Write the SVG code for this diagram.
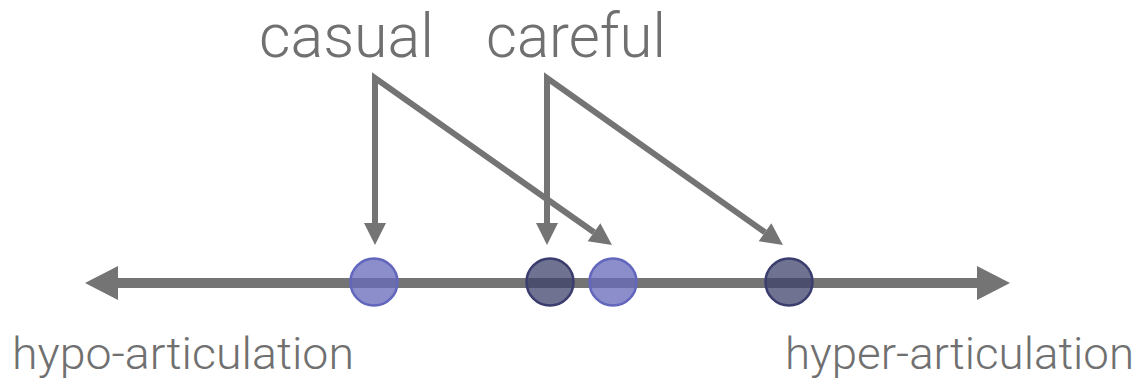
<svg xmlns="http://www.w3.org/2000/svg" width="1143" height="381" viewBox="0 0 1143 381">
  <style>
    .lbl { font-family: Roboto, "Liberation Sans", Arial, sans-serif; font-weight: 300; fill: #707070; }
    .ptr { fill: none; stroke: #747474; stroke-width: 6; stroke-linejoin: miter; stroke-miterlimit: 10; }
    .axis { fill: none; stroke: #747474; stroke-width: 10; }
    .light { fill: rgb(103,106,185); fill-opacity: 0.76; stroke: #6266bd; stroke-width: 2.5; }
    .dark { fill: rgb(61,65,105); fill-opacity: 0.74; stroke: #3b3d6e; stroke-width: 2.5; }
  </style>
  <defs>
    <marker id="ah" markerUnits="userSpaceOnUse" markerWidth="23" markerHeight="23" refX="0" refY="11" orient="auto-start-reverse" overflow="visible">
      <path d="M0,0 L22,11 L0,22 Z" fill="#747474"/>
    </marker>
    <marker id="axh" markerUnits="userSpaceOnUse" markerWidth="34" markerHeight="35" refX="0" refY="17" orient="auto-start-reverse" overflow="visible">
      <path d="M0,0 L33,17 L0,34 Z" fill="#747474"/>
    </marker>
  </defs>

  <g id="connectors">
    <path id="axis" class="axis" d="M118,283 L977,283" marker-start="url(#axh)" marker-end="url(#axh)"/>
    <path id="casual-arrows" class="ptr" d="M375,223 L375,78 L594,232.3" marker-start="url(#ah)" marker-end="url(#ah)"/>
    <path id="careful-arrows" class="ptr" d="M547,223 L547,78 L765,232.3" marker-start="url(#ah)" marker-end="url(#ah)"/>
  </g>

  <g id="casual-label">
    <text class="lbl" x="259" y="57" font-size="62" textLength="175" lengthAdjust="spacingAndGlyphs">casual</text>
  </g>
  <g id="careful-label">
    <text class="lbl" x="486" y="57" font-size="62" textLength="180" lengthAdjust="spacingAndGlyphs">careful</text>
  </g>

  <g id="casual-hypo"><circle class="light" cx="374" cy="282" r="23.5"/></g>
  <g id="careful-hypo"><circle class="dark" cx="550" cy="282" r="23.5"/></g>
  <g id="casual-hyper"><circle class="light" cx="613" cy="282" r="23.5"/></g>
  <g id="careful-hyper"><circle class="dark" cx="789" cy="282" r="23.5"/></g>

  <g id="hypo-label">
    <text class="lbl" x="12" y="369" font-size="44" textLength="342" lengthAdjust="spacingAndGlyphs">hypo-articulation</text>
  </g>
  <g id="hyper-label">
    <text class="lbl" x="785" y="369" font-size="44" textLength="349" lengthAdjust="spacingAndGlyphs">hyper-articulation</text>
  </g>
</svg>
